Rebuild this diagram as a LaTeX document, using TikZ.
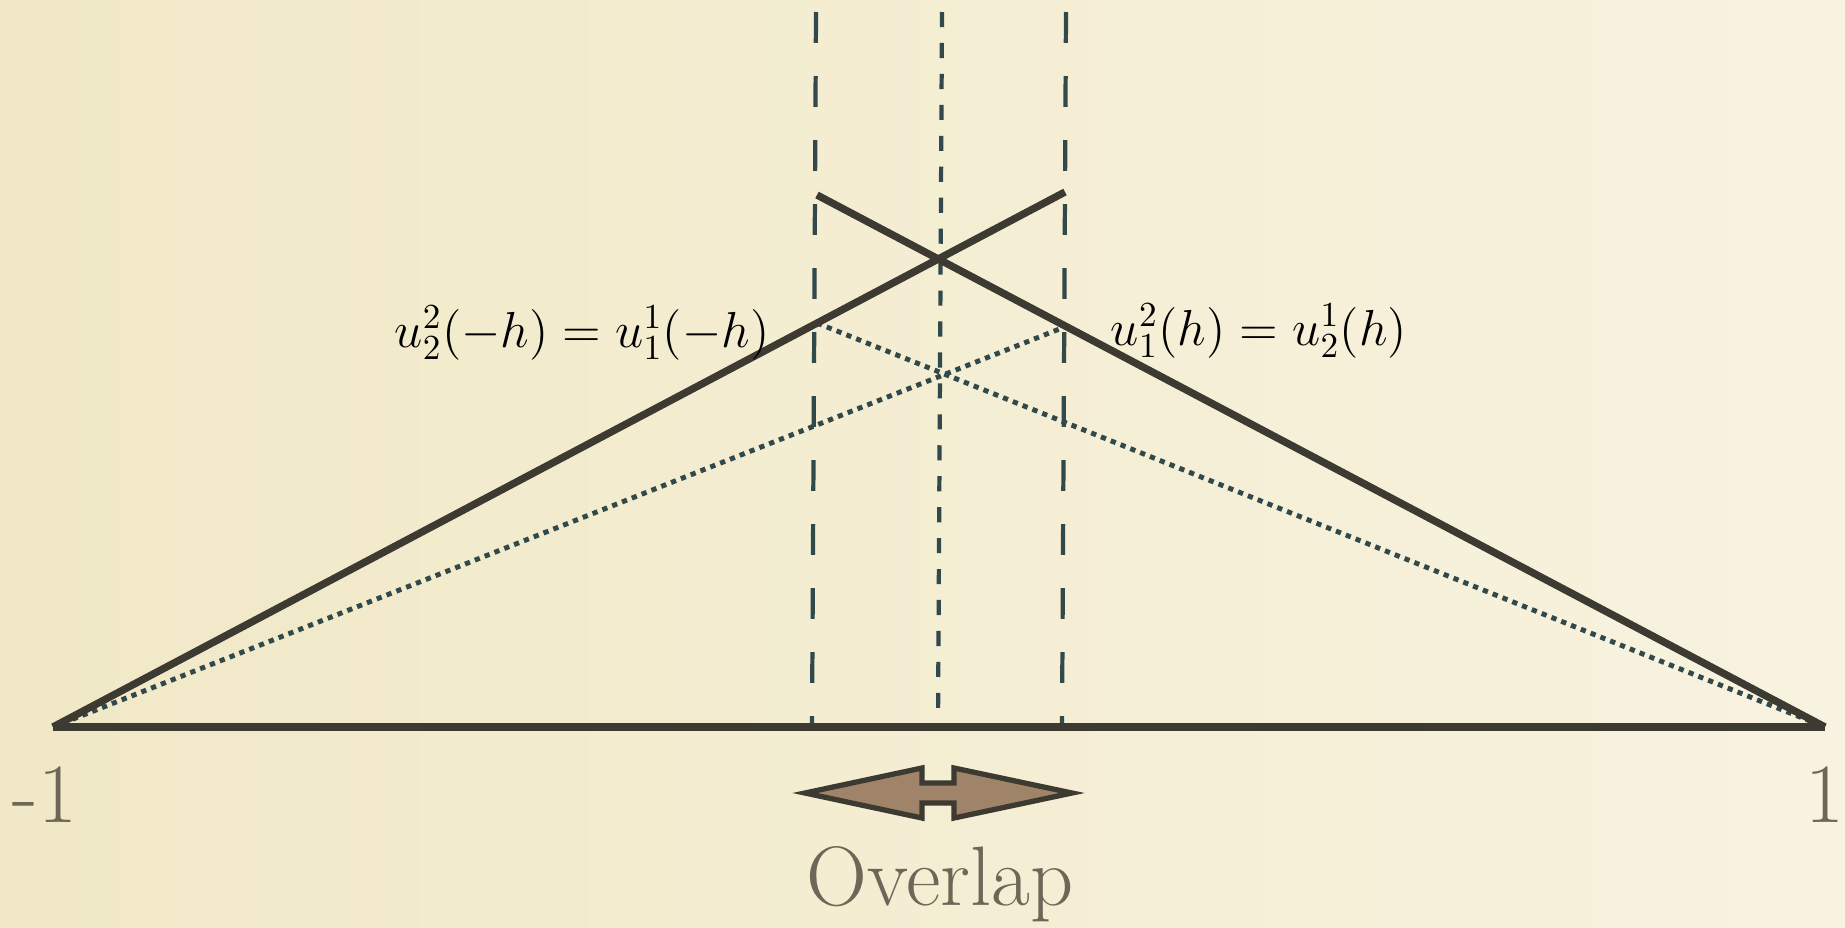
\documentclass[tikz,border=0pt]{standalone}
\usepackage{amsmath}
\definecolor{bgL}{HTML}{F0E8C6}
\definecolor{bgR}{HTML}{F8F3E0}
\definecolor{ink}{HTML}{3D3A31}
\definecolor{teal}{HTML}{32494B}
\definecolor{greyb}{HTML}{6E6758}
\definecolor{arrowfill}{HTML}{A08469}
\tikzset{
  solidline/.style={draw=ink, line width=2.1pt, line cap=butt},
  longdash/.style={draw=teal, line width=1.2pt, dash pattern=on 8.8pt off 9.4pt},
  shortdash/.style={draw=teal, line width=1.2pt, dash pattern=on 4.3pt off 4.5pt},
  dotline/.style={draw=teal, line width=1.4pt, dash pattern=on 1.5pt off 1.5pt},
  mathlabel/.style={inner sep=0pt, font=\fontsize{13.6}{16}\selectfont},
  endlabel/.style={inner sep=0pt, text=greyb, font=\fontsize{24}{28}\selectfont},
}
\begin{document}
\begin{tikzpicture}[x=0.01cm, y=-0.01cm]
\useasboundingbox (0,0) rectangle (1845,927);
\shade[left color=bgL, right color=bgR] (0,0) rectangle (1845,927);
% coordinates
\coordinate (Lend) at (53,727);
\coordinate (Rend) at (1825,727);
\coordinate (S1top) at (1065,192);
\coordinate (S2top) at (817,195);
\coordinate (D1top) at (1062,328);
\coordinate (D2top) at (817,323);
\coordinate (dLt) at (816,12);
\coordinate (dLb) at (812,727);
\coordinate (dCt) at (942,12);
\coordinate (dCb) at (938,727);
\coordinate (dRt) at (1066,12);
\coordinate (dRb) at (1062,727);
% vertical dashed lines
\draw[longdash] (dLt) -- (dLb);
\draw[shortdash] (dCt) -- (dCb);
\draw[longdash] (dRt) -- (dRb);
% dotted lines
\draw[dotline] (Lend) -- (D1top);
\draw[dotline] (D2top) -- (Rend);
% solid lines
\draw[solidline] (Lend) -- (S1top);
\draw[solidline] (S2top) -- (Rend);
\draw[solidline] (Lend) -- (Rend);
% labels
\node[mathlabel] (lab1) at (582,333) {$u_2^2(-h) = u_1^1(-h)$};
\node[mathlabel] (lab2) at (1259,331) {$u_1^2(h) = u_2^1(h)$};
\node[endlabel] (m1) at (45,795) {-1};
\node[endlabel] (p1) at (1825,795) {1};
% overlap arrow
\draw[draw=ink, fill=arrowfill, line width=1.5pt, line join=miter]
  (805,793) -- (922,768) -- (922,783) -- (954,783) -- (954,768) -- (1072,793)
  -- (954,818) -- (954,803) -- (922,803) -- (922,818) -- cycle;
\node[endlabel, anchor=base] (ov) at (940,905) {Overlap};
\end{tikzpicture}
\end{document}
